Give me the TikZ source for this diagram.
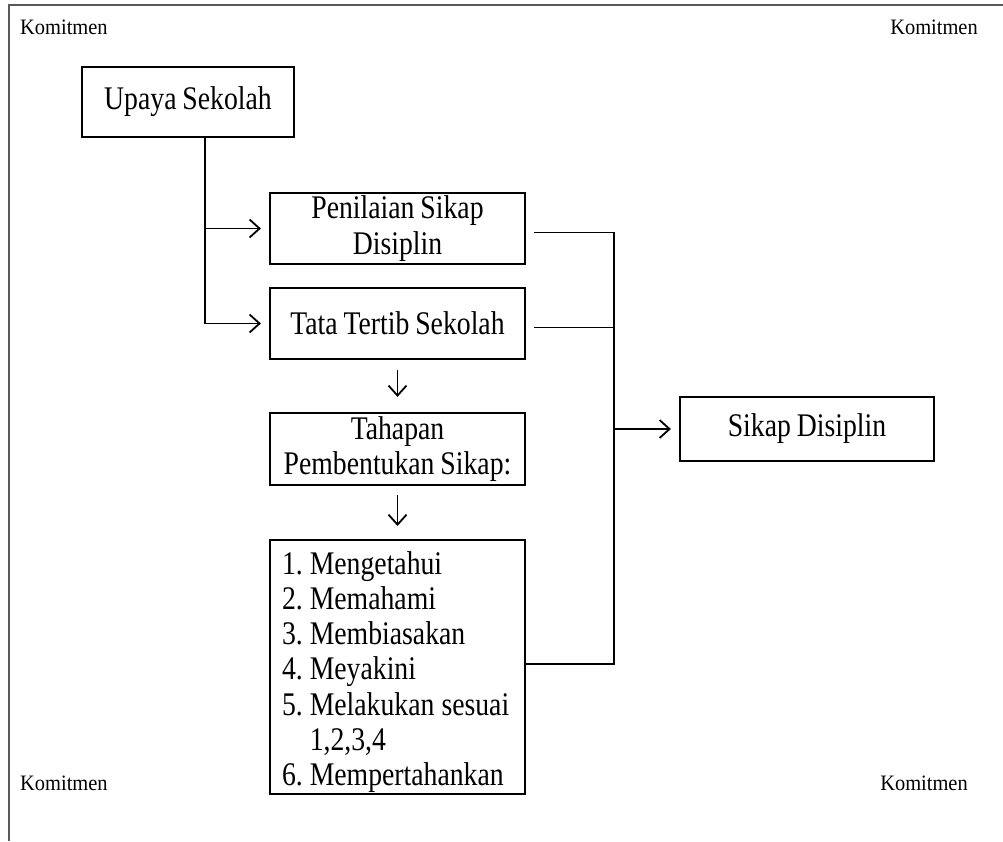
\documentclass[tikz,border=0pt]{standalone}
\usepackage{fontspec}
\setmainfont{Liberation Serif}
\newfontfamily\boxfont[FakeStretch=0.84, WordSpace=0.85]{Liberation Serif}
\newfontfamily\tagfont[FakeStretch=0.93]{Liberation Serif}
\newcommand{\listspace}{\spaceskip=7pt\relax}
\usetikzlibrary{arrows.meta}

\begin{document}
\frenchspacing
\begin{tikzpicture}[x=1pt, y=-1pt, >={Straight Barb[length=10pt,width=18pt]},
		box/.style={draw, line width=2.2pt, inner xsep=12pt, inner ysep=1pt, align=center,
			font=\boxfont\fontsize{33}{35.3}\selectfont},
		conn/.style={line width=1.8pt},
		tag/.style={inner sep=0pt, font=\tagfont\fontsize{22}{25}\selectfont}]
		\useasboundingbox (0,0) rectangle (1003,841);
		\draw[line width=1.6pt, black!65] (9,841) -- (9,5) -- (1003,5);

		\node[tag, anchor=west] (kom1) at (20,27) {Komitmen};
		\node[tag] (kom2) at (934,27) {Komitmen};
		\node[tag, anchor=west] (kom3) at (20,783) {Komitmen};
		\node[tag] (kom4) at (924,783) {Komitmen};

		\node[box, minimum width=212pt, minimum height=70pt] (upaya) at (188,102) {Upaya Sekolah};
		\node[box, minimum width=255pt, minimum height=71pt] (penilaian) at (397.5,228.5) {Penilaian Sikap\\Disiplin};
		\node[box, minimum width=255pt, minimum height=71pt] (tata) at (397.5,323.5) {Tata Tertib Sekolah};
		\node[box, minimum width=255pt, minimum height=72pt] (tahapan) at (397.5,449) {Tahapan\\Pembentukan Sikap:};
		\node[box, minimum width=255pt, minimum height=252pt, text width=231pt, align=left] (list) at (397.5,667) {\listspace\rule{0pt}{33pt}1. Mengetahui\\2. Memahami\\3. Membiasakan\\4. Meyakini\\5. Melakukan sesuai\\\hphantom{5. }1,2,3,4\\6. Mempertahankan};
		\node[box, minimum width=254pt, minimum height=64pt] (sikap) at (807,429) {Sikap Disiplin};

		\coordinate (trunk) at (205,0);
		\coordinate (bus) at (614,0);
		\coordinate (penout) at ([yshift=-4pt]penilaian.east);
		\coordinate (tataout) at ([yshift=-4pt]tata.east);
		\coordinate (listout) at ([yshift=3pt]list.east);

		\draw[conn, ->, shorten >=8pt] (trunk |- upaya.south) |- (tata.west);
		\draw[conn, ->, shorten >=8pt] (trunk |- penilaian.west) -- (penilaian.west);
		\draw[conn, ->, shorten <=10pt, shorten >=15pt] (tata.south) -- (tahapan.north);
		\draw[conn, ->, shorten <=9pt, shorten >=13pt] (tahapan.south) -- (list.north);

		\draw[conn, shorten <=8pt] (penout) -| (bus |- listout) -- (listout);
		\draw[conn, shorten <=8pt] (tataout) -- (bus |- tataout);
		\draw[conn, ->, shorten >=8pt] (bus |- sikap.west) -- (sikap.west);
	\end{tikzpicture}
\end{document}
